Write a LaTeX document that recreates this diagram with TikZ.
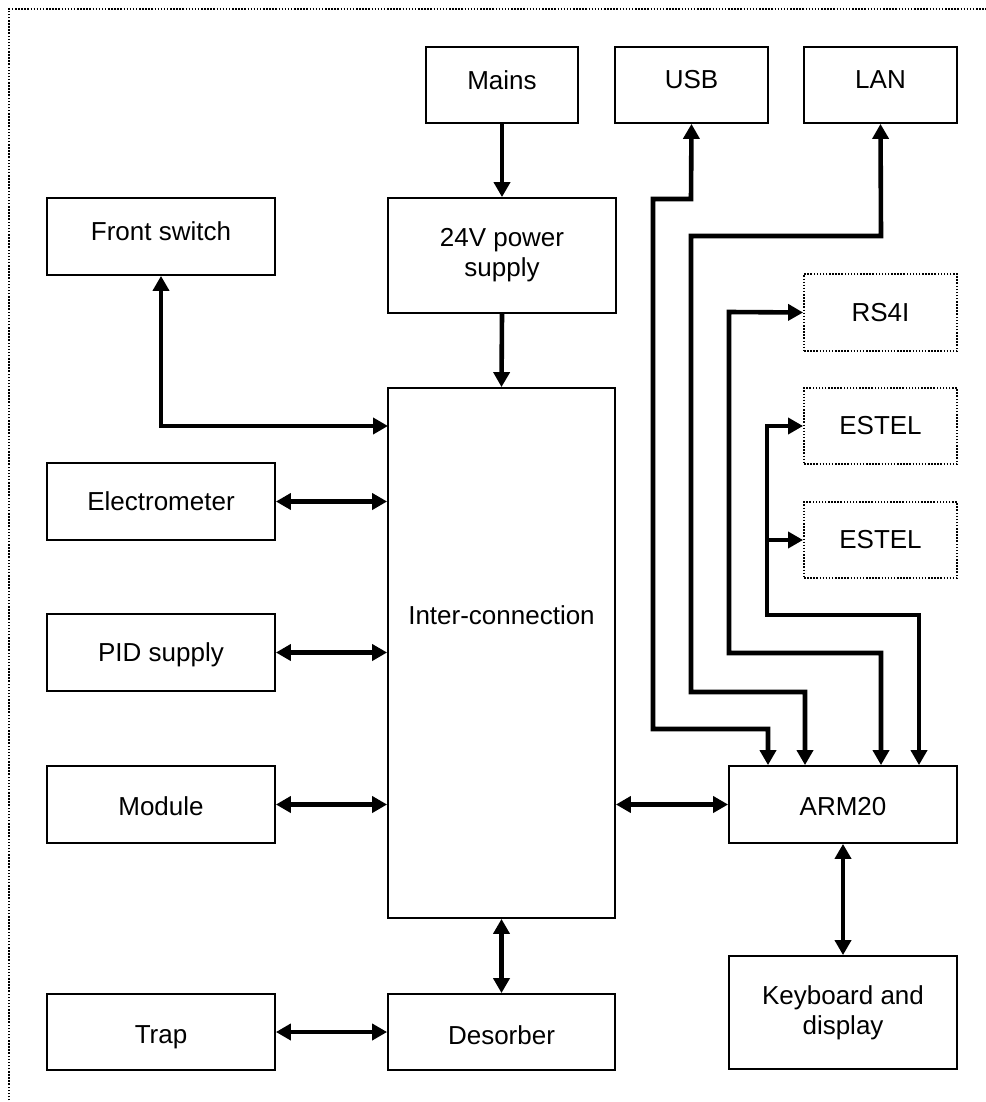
\documentclass[tikz,border=0pt]{standalone}
\usepackage{fontspec}
\setmainfont{Liberation Sans}
\usetikzlibrary{arrows.meta}
\newcommand\rais[2]{\raisebox{#1}[\height][\depth]{#2}}
\begin{document}
\begin{tikzpicture}[x=1pt,y=-1pt,
  box/.style={draw, line width=1.8pt, rectangle, inner sep=0pt, align=center,
    font=\fontsize{26}{30}\selectfont},
  optbox/.style={box, line width=1.9pt, dash pattern=on 1.5pt off 1.6pt},
  wire/.style={line width=4.6pt, line join=miter},
  tip/.style={-{Triangle[length=15pt,width=16pt]}},
  tips/.style={{Triangle[length=15pt,width=16pt]}-{Triangle[length=15pt,width=16pt]}},
  lbl/.style={font=\fontsize{26}{30}\selectfont, inner sep=0pt}
]
\useasboundingbox (0,0) rectangle (985,1102);
% frame (only top and left visible)
\draw[line width=1.9pt, dash pattern=on 1.5pt off 1.6pt] (9,1150) -- (9,9) -- (1050,9);

% boxes
\node[box, minimum width=152pt, minimum height=76pt] (mains) at (502,85) {\rais{5pt}{Mains}};
\node[box, minimum width=153pt, minimum height=76pt] (usb) at (691.5,85) {\rais{5pt}{USB}};
\node[box, minimum width=153pt, minimum height=76pt] (lan) at (880.5,85) {\rais{5pt}{LAN}};
\node[box, minimum width=228pt, minimum height=77pt] (fs) at (161,236.5) {\rais{5pt}{Front switch}};
\node[box, minimum width=228pt, minimum height=115pt] (psu) at (502,255.5) {24V power\\supply};
\node[optbox, minimum width=153pt, minimum height=77pt] (rs) at (880.5,312.5) {RS4I};
\node[optbox, minimum width=153pt, minimum height=76pt] (e1) at (880.5,426) {ESTEL};
\node[optbox, minimum width=153pt, minimum height=76pt] (e2) at (880.5,540) {ESTEL};
\node[box, minimum width=227pt, minimum height=530pt] (inter) at (501.5,653) {};
\node[lbl] (interlbl) at (501.5,615) {Inter-connection};
\node[box, minimum width=228pt, minimum height=77pt] (el) at (161,501.5) {Electrometer};
\node[box, minimum width=228pt, minimum height=77pt] (pid) at (161,652.5) {\rais{-2pt}{PID supply}};
\node[box, minimum width=228pt, minimum height=77pt] (mod) at (161,804.5) {\rais{-2pt}{Module}};
\node[box, minimum width=228pt, minimum height=77pt] (arm) at (843,804.5) {\rais{-2pt}{ARM20}};
\node[box, minimum width=228pt, minimum height=113pt] (kb) at (843,1012.5) {Keyboard and\\display};
\node[box, minimum width=228pt, minimum height=76pt] (trap) at (161,1032) {\rais{-5pt}{Trap}};
\node[box, minimum width=227pt, minimum height=76pt] (des) at (501.5,1032) {\rais{-3pt}{Desorber}};

% anchor coordinates
\coordinate (fsIn) at (388,426);
\coordinate (xUsb) at (768,0);
\coordinate (xLan) at (805,0);
\coordinate (xRs) at (881,0);
\coordinate (xEs) at (919,0);

% power path
\draw[wire,tip] (mains.south) -- (psu.north);
\draw[wire,tip] (psu.south) -- (inter.north);

% left side
\draw[wire,tips] (fs.south) |- (fsIn);
\draw[wire,tips] (el.east) -- (el.east -| inter.west);
\draw[wire,tips] (pid.east) -- (pid.east -| inter.west);
\draw[wire,tips] (mod.east) -- (mod.east -| inter.west);
\draw[wire,tips] (inter.south) -- (des.north);
\draw[wire,tips] (trap.east) -- (des.west);

% ARM20
\draw[wire,tips] (arm.west -| inter.east) -- (arm.west);
\draw[wire,tips] (arm.south) -- (kb.north);

% interface buses
\draw[wire,tips] (usb.south) -- (691,199) -- (653,199) -- (653,729) -- (768,729) -- (xUsb |- arm.north);
\draw[wire,tips] (lan.south) -- (881,236) -- (691,236) -- (691,692) -- (805,692) -- (xLan |- arm.north);
\draw[wire,tips] (rs.west) -- (729,312) -- (729,653) -- (881,653) -- (xRs |- arm.north);
\draw[wire,tips] (e1.west) -- (767,426) -- (767,615) -- (919,615) -- (xEs |- arm.north);
\draw[wire,tip] (767,540) -- (e2.west);
\end{tikzpicture}
\end{document}
